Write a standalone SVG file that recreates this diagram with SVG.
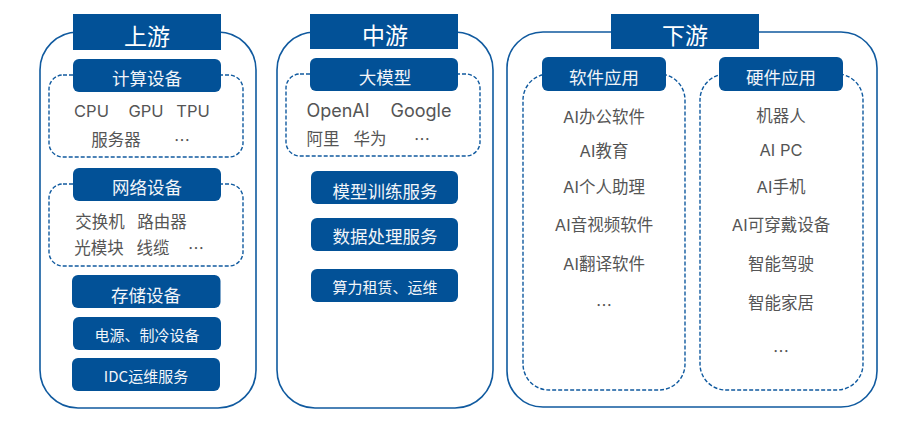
<svg xmlns="http://www.w3.org/2000/svg" width="922" height="430" viewBox="0 0 922 430">
<style>
text{text-anchor:middle;font-family:"Noto Sans CJK SC",sans-serif}
.panel{fill:none;stroke:#105a9f;stroke-width:1.6}
.dash{fill:none;stroke:#105a9f;stroke-width:1.4;stroke-dasharray:4 2}
.head{fill:#025197}
.h1{fill:#fff;font-size:23px;font-weight:400}
.h2{fill:#f2f5f9;font-size:17.500px;font-weight:400}
.h3{fill:#f2f5f9;font-size:15px;font-weight:400}
.t{fill:#555;font-size:16.500px;font-family:"Inter","Noto Sans CJK SC",sans-serif}
.l{font-size:18px}
.e{fill:#555;font-size:16px;font-family:"Noto Sans CJK SC",sans-serif}
</style>
<rect width="922" height="430" fill="#fff"/>
<g id="connectors"></g>
<g id="upstream">
<rect class="panel" x="40" y="32" width="216" height="376" rx="38"/>
<rect class="head" x="73" y="14" width="148" height="36"/>
<text class="h1" x="147" y="45">上游</text>
</g>
<g id="compute">
<rect class="dash" x="49" y="75" width="194" height="82" rx="14"/>
<rect class="head" x="73" y="59" width="148" height="33" rx="6"/>
<text class="h2" x="147" y="85">计算设备</text>
<text class="t" x="91.500" y="117">CPU</text><text class="t" x="146" y="117">GPU</text><text class="t" x="193" y="117">TPU</text>
<text class="t" x="116" y="146">服务器</text><text class="e" x="182" y="146">…</text>
</g>
<g id="network">
<rect class="dash" x="49" y="184" width="194" height="82" rx="14"/>
<rect class="head" x="73" y="168" width="148" height="33" rx="6"/>
<text class="h2" x="147" y="194">网络设备</text>
<text class="t" x="100" y="228">交换机</text><text class="t" x="162" y="228">路由器</text>
<text class="t" x="99" y="254">光模块</text><text class="t" x="153" y="254">线缆</text><text class="e" x="196" y="254">…</text>
</g>
<g id="storage"><rect class="head" x="72" y="275" width="148.500" height="33" rx="6"/><text class="h2" x="146" y="302">存储设备</text></g>
<g id="power"><rect class="head" x="73" y="317" width="148" height="33" rx="6"/><text class="h3" x="147" y="341">电源、制冷设备</text></g>
<g id="idc"><rect class="head" x="72" y="358" width="148" height="33" rx="6"/><text class="h3" x="146" y="382">IDC运维服务</text></g>
<g id="midstream">
<rect class="panel" x="277" y="32" width="216" height="376" rx="38"/>
<rect class="head" x="310" y="14" width="148" height="35"/>
<text class="h1" x="385" y="44">中游</text>
</g>
<g id="llm">
<rect class="dash" x="286" y="74" width="194" height="82" rx="14"/>
<rect class="head" x="310" y="58" width="148" height="33" rx="6"/>
<text class="h2" x="385" y="84">大模型</text>
<text class="t l" x="338" y="117">OpenAI</text><text class="t l" x="421" y="117">Google</text>
<text class="t" x="323" y="145">阿里</text><text class="t" x="370" y="145">华为</text><text class="e" x="422" y="145">…</text>
</g>
<g id="training"><rect class="head" x="311" y="171" width="147" height="33" rx="6"/><text class="h2" x="385" y="198">模型训练服务</text></g>
<g id="data"><rect class="head" x="311" y="218" width="147" height="33" rx="6"/><text class="h2" x="385" y="243">数据处理服务</text></g>
<g id="compute-rent"><rect class="head" x="311" y="269" width="147" height="33" rx="6"/><text class="h3" x="385" y="293">算力租赁、运维</text></g>
<g id="downstream">
<rect class="panel" x="507" y="32" width="370" height="375" rx="36"/>
<rect class="head" x="611" y="14" width="148" height="35"/>
<text class="h1" x="685" y="44">下游</text>
</g>
<g id="software">
<rect class="dash" x="523" y="74" width="162" height="316" rx="26"/>
<rect class="head" x="542" y="57" width="124" height="34" rx="6"/>
<text class="h2" x="604" y="84">软件应用</text>
<text class="t" x="604" y="123">AI办公软件</text>
<text class="t" x="604" y="157">AI教育</text>
<text class="t" x="604" y="193">AI个人助理</text>
<text class="t" x="604" y="231">AI音视频软件</text>
<text class="t" x="604" y="270">AI翻译软件</text>
<text class="e" x="604" y="311">…</text>
</g>
<g id="hardware">
<rect class="dash" x="700" y="74" width="163" height="316" rx="26"/>
<rect class="head" x="719" y="57" width="124" height="34" rx="6"/>
<text class="h2" x="781" y="84">硬件应用</text>
<text class="t" x="781" y="122">机器人</text>
<text class="t" x="781" y="156">AI PC</text>
<text class="t" x="781" y="193">AI手机</text>
<text class="t" x="781" y="231">AI可穿戴设备</text>
<text class="t" x="781" y="270">智能驾驶</text>
<text class="t" x="781" y="309">智能家居</text>
<text class="e" x="781" y="357">…</text>
</g>
</svg>
